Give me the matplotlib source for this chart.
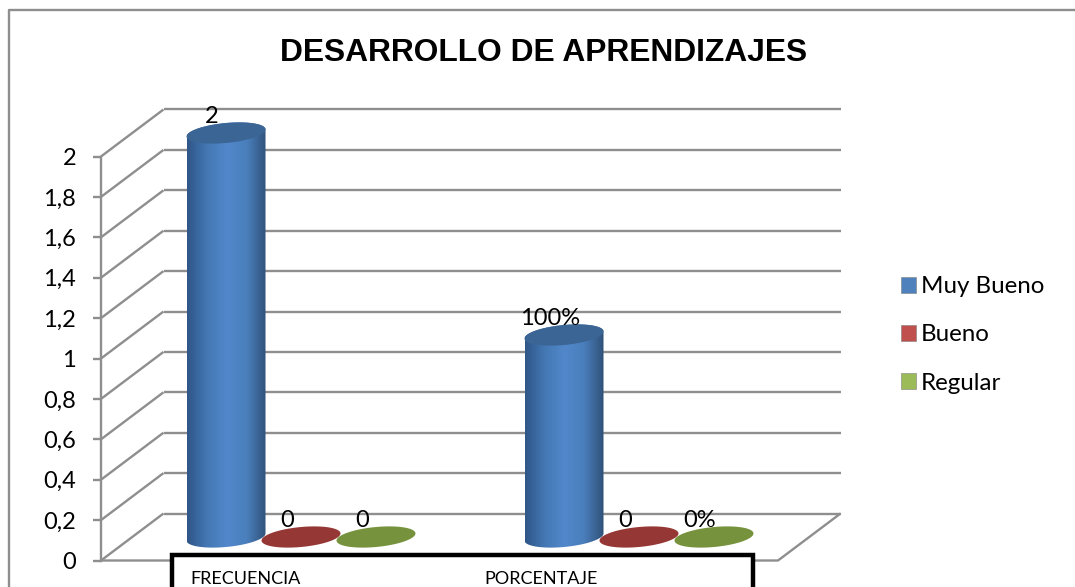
#!/usr/bin/env python3
"""Recreates the 3D-looking cylinder chart DESARROLLO DE APRENDIZAJES."""

import numpy as np
import matplotlib
matplotlib.use("Agg")
import matplotlib.pyplot as plt
from matplotlib.colors import LinearSegmentedColormap
from matplotlib.patches import Patch, Polygon, Rectangle

# ── Data ───────────────────────────────────────────────────────────
categories = ["FRECUENCIA", "PORCENTAJE"]
series_names = ["Muy Bueno", "Bueno", "Regular"]
muy_bueno = [2, 1]
bueno = [0, 0]
regular = [0, 0]
label_muy_bueno = ["2", "100%"]
label_bueno = ["0", "0"]
label_regular = ["0", "0%"]
y_ticks = [0, 0.2, 0.4, 0.6, 0.8, 1, 1.2, 1.4, 1.6, 1.8, 2]

# ── Colors ─────────────────────────────────────────────────────────
CLR_GRID = "#8e8e8e"
CLR_LEGEND = ["#4f81bd", "#c0504d", "#9bbb59"]
CLR_CAP = ["#3a6595", "#953735", "#76923c"]
BLUE_BODY = LinearSegmentedColormap.from_list(
    "body", ["#2f5688", "#4478b4", "#5288cb", "#4a7fbc", "#2f5178"])

# ── Layout (pixels of the 1075x587 picture) ────────────────────────
W, H = 1075, 587
PX_CAT = 338.0    # one category
PX_VAL = 202.0    # one unit of value
X0_PX, Y0_PX = 301, 560.5   # category 0 centre, value 0
FONT = "Lato"

dx = 1 / PX_CAT
dy = 1 / PX_VAL
DEPTH_X = 62.5 * dx
DEPTH_Y = 47 * dy
LEFT = -200 * dx      # front left corner of the box
RIGHT = 477 * dx      # front right corner of the floor
SERIES_STEP = 75 * dx
BAR_A = 39.5
BAR_B = 10.0
BAR_TILT = 0.09
BASE = 23.5 * dy


def ellipse_xy(xc, yc, start=0.0, stop=2 * np.pi):
    t = np.linspace(start, stop, 80)
    ex = BAR_A * np.cos(t)
    ey = BAR_B * np.sin(t) + BAR_TILT * ex
    return xc + ex * dx, yc + ey * dy


def draw_cylinder(ax, xc, value, idx):
    top = BASE + value
    if value > 0:
        bx, by = ellipse_xy(xc, BASE, np.pi, 2 * np.pi)
        tx, ty = ellipse_xy(xc, top, 0, np.pi)
        body = Polygon(np.column_stack([np.r_[bx, tx], np.r_[by, ty]]),
                       closed=True, facecolor="none", edgecolor="none",
                       transform=ax.transData, zorder=3)
        ax.add_patch(body)
        grad = np.linspace(0, 1, 128).reshape(1, -1)
        im = ax.imshow(grad, cmap=BLUE_BODY, aspect="auto", zorder=3,
                       extent=(xc - BAR_A * dx, xc + BAR_A * dx,
                               BASE - 20 * dy, top + 20 * dy))
        im.set_clip_path(body)
    ex, ey = ellipse_xy(xc, top)
    ax.fill(ex, ey, color=CLR_CAP[idx], lw=0, zorder=4)


fig = plt.figure(figsize=(W / 100, H / 100), dpi=100, facecolor="white")
ax = fig.add_axes([0, 0, 1, 1])
ax.set_xlim(-X0_PX * dx, (W - X0_PX) * dx)
ax.set_ylim(-(H - Y0_PX) * dy, Y0_PX * dy)

# ── Walls and floor ────────────────────────────────────────────────
line = dict(color=CLR_GRID, lw=1.7, zorder=1, solid_capstyle="butt")
for v in y_ticks:
    ax.plot([LEFT, LEFT + DEPTH_X], [v, v + DEPTH_Y], **line)
    ax.plot([LEFT + DEPTH_X, RIGHT + DEPTH_X],
            [v + DEPTH_Y, v + DEPTH_Y], **line)
ax.plot([LEFT, RIGHT, RIGHT + DEPTH_X], [0, 0, DEPTH_Y], **line)

# ── Y axis on the front left corner ────────────────────────────────
for name in ("top", "right", "bottom"):
    ax.spines[name].set_visible(False)
ax.spines["left"].set_position(("data", LEFT))
ax.spines["left"].set_bounds(0, 2)
ax.spines["left"].set_color(CLR_GRID)
ax.spines["left"].set_linewidth(1.7)
ax.set_xticks([])
ax.set_yticks(y_ticks)
ax.set_yticklabels([f"{v:g}".replace(".", ",") for v in y_ticks],
                   fontsize=17, family=FONT, color="black")
ax.tick_params(axis="y", length=6, width=1.7, color=CLR_GRID, pad=12)

# ── Bars ───────────────────────────────────────────────────────────
series = [muy_bueno, bueno, regular]
labels = [label_muy_bueno, label_bueno, label_regular]
for c in range(len(categories)):
    for s, values in enumerate(series):
        xc = c + (s - 1) * SERIES_STEP
        draw_cylinder(ax, xc, values[c], s)
        ax.text(xc - 14 * dx, BASE + values[c] + 16.5 * dy, labels[s][c],
                ha="center", va="center", fontsize=17, family=FONT,
                color="black", zorder=5)

ax.set_xlim(-X0_PX * dx, (W - X0_PX) * dx)
ax.set_ylim(-(H - Y0_PX) * dy, Y0_PX * dy)

# ── Box around the category names (runs off the bottom) ────────────
ax.add_patch(Rectangle((-129 * dx, -40 * dy), 581 * dx, 45.5 * dy,
                       facecolor="white", edgecolor="black", lw=3.2, zorder=6))
for label, xp in zip(categories, (-111, 183)):
    ax.text(xp * dx, -19 * dy, label, ha="left", va="center", fontsize=13,
            family=FONT, color="black", zorder=7)

# ── Outer chart border ─────────────────────────────────────────────
ax.plot([-292 * dx, -292 * dx, (W - X0_PX) * dx],
        [-(H - Y0_PX) * dy, 550.5 * dy, 550.5 * dy],
        color=CLR_GRID, lw=1.7, zorder=1, clip_on=False)

# ── Title and legend ───────────────────────────────────────────────
ax.text(243 * dx, 507.5 * dy, "DESARROLLO DE APRENDIZAJES", ha="center",
        va="center", fontsize=22.9, fontweight="bold",
        family="Liberation Sans", color="black")
handles = [Patch(facecolor=c, edgecolor="#7f7f7f", lw=0.4, label=n)
           for c, n in zip(CLR_LEGEND, series_names)]
ax.legend(handles=handles, loc="upper left", frameon=False,
          bbox_to_anchor=(899 / W, 1 - 274 / H), borderaxespad=0,
          borderpad=0.1, prop={"family": FONT, "size": 17.4},
          handlelength=0.62, handleheight=0.62, handletextpad=0.2,
          labelspacing=1.12)

fig.savefig("out.png", dpi=100)
plt.close(fig)
